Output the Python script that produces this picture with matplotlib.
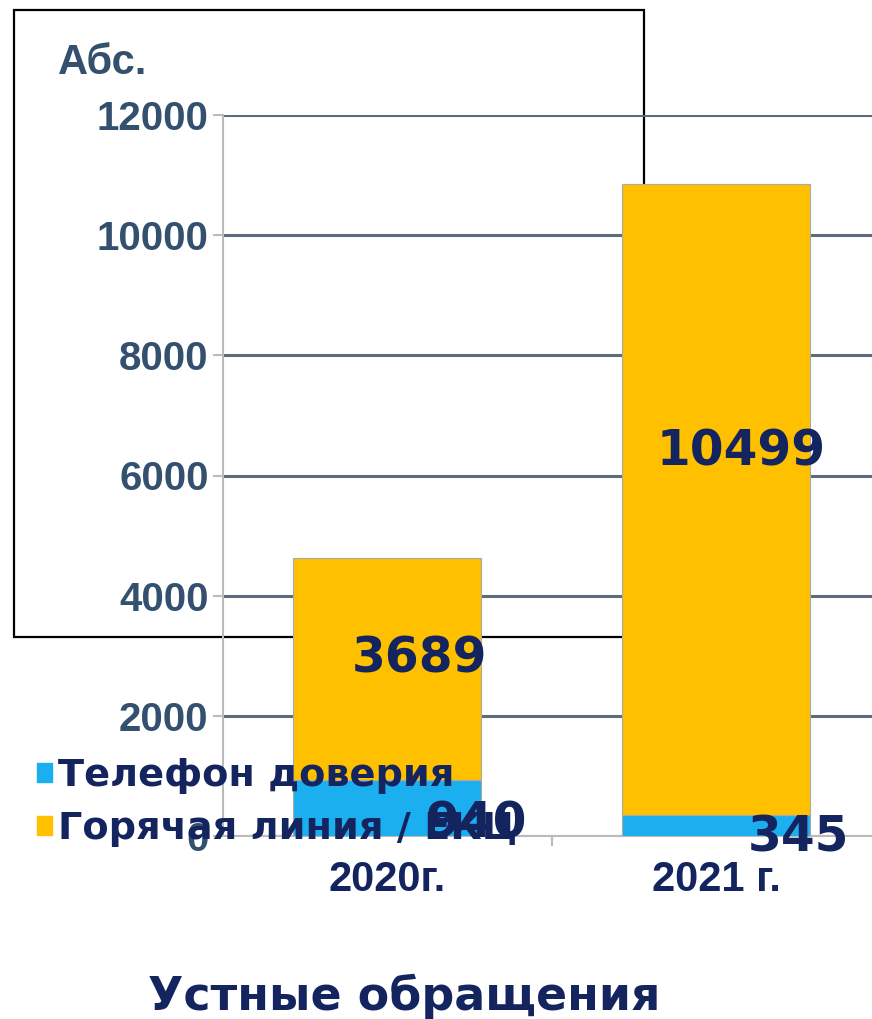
import matplotlib.pyplot as plt
from matplotlib.patches import Rectangle
import numpy as np

years = ["2020г.", "2021 г."]
trust_phone = [940, 345]
hot_line = [3689, 10499]
series_names = ["Телефон доверия", "Горячая линия / ЕКЦ"]
yticks = [0, 2000, 4000, 6000, 8000, 10000, 12000]

BLUE = "#1CAFF0"
YELLOW = "#FFC000"
NAVY = "#13245e"
SLATE = "#34506f"


def main():
    fig = plt.figure(figsize=(8.72, 10.19), dpi=100)
    fig.patch.set_facecolor("white")

    # black frame behind the bars
    fig.patches.append(Rectangle((14 / 872, 1 - 637 / 1019), 630 / 872, 627 / 1019,
                                 transform=fig.transFigure, fill=False,
                                 edgecolor="black", linewidth=1.6, zorder=0))

    ax = fig.add_axes([222.5 / 872, 183 / 1019, 658 / 872, 721 / 1019])
    ax.set_facecolor("none")
    ax.set_zorder(1)

    x = np.arange(len(years))
    ax.bar(x, trust_phone, width=0.571, color=BLUE, edgecolor="#a9a9a9",
           linewidth=0.8, zorder=3)
    ax.bar(x, hot_line, width=0.571, bottom=trust_phone, color=YELLOW,
           edgecolor="#a9a9a9", linewidth=0.8, zorder=3)

    ax.set_xlim(-0.5, 1.5)
    ax.set_ylim(0, 12000)
    ax.set_yticks(yticks)
    ax.set_yticklabels([str(v) for v in yticks], fontsize=29, fontweight="bold",
                       color=SLATE, family="Liberation Sans")
    ax.yaxis.grid(True, color="#5d6b7e", linewidth=2.2, zorder=1)
    ax.set_axisbelow(True)
    ax.tick_params(axis="y", length=7, color="#bbbbbb", width=1.5, pad=3)

    ax.set_xticks(x)
    ax.set_xticklabels(years, fontsize=30, fontweight="bold", color=NAVY,
                       family="Liberation Sans")
    ax.set_xticks([0.5], minor=True)
    ax.tick_params(axis="x", which="major", length=0, pad=17)
    ax.tick_params(axis="x", which="minor", length=7, color="#bbbbbb", width=1.5)

    for side in ["top", "right"]:
        ax.spines[side].set_visible(False)
    ax.spines["left"].set_color("#bbbbbb")
    ax.spines["left"].set_linewidth(1.5)
    ax.spines["bottom"].set_color("#bbbbbb")
    ax.spines["bottom"].set_linewidth(1.5)

    # value labels
    top_label_pos = [(0.1, 0.545), (0.075, 0.577)]
    for i, (dx, frac) in enumerate(top_label_pos):
        ax.text(i + dx, trust_phone[i] + hot_line[i] * frac, str(hot_line[i]),
                ha="center", va="center", fontsize=35, fontweight="bold",
                color=NAVY, zorder=5)
    low_label_pos = [(0.27, 200), (1.25, -30)]
    for i, (xx, yy) in enumerate(low_label_pos):
        ax.text(xx, yy, str(trust_phone[i]), ha="center", va="center",
                fontsize=35, fontweight="bold", color=NAVY, zorder=5,
                clip_on=False)

    # legend
    handles = [Rectangle((0, 0), 1, 1, color=BLUE), Rectangle((0, 0), 1, 1, color=YELLOW)]
    leg = fig.legend(handles, series_names, loc="upper left",
                     bbox_to_anchor=(37 / 872, 1 - 758 / 1019), frameon=False,
                     prop={"size": 27.5, "weight": "bold"}, handlelength=0.4,
                     handleheight=0.4, handletextpad=0.15, labelspacing=0.45,
                     borderaxespad=0, borderpad=0)
    for t in leg.get_texts():
        t.set_color(NAVY)
    leg.set_zorder(6)

    fig.text(58 / 872, 1 - 63 / 1019, "Абс.", fontsize=30, fontweight="bold",
             color=SLATE, family="Liberation Sans", va="center")
    fig.text(404 / 872, 1 - 997 / 1019, "Устные обращения", fontsize=33,
             fontweight="bold", color=NAVY, ha="center", va="center")

    fig.savefig("out.png", dpi=100)


if __name__ == "__main__":
    main()
